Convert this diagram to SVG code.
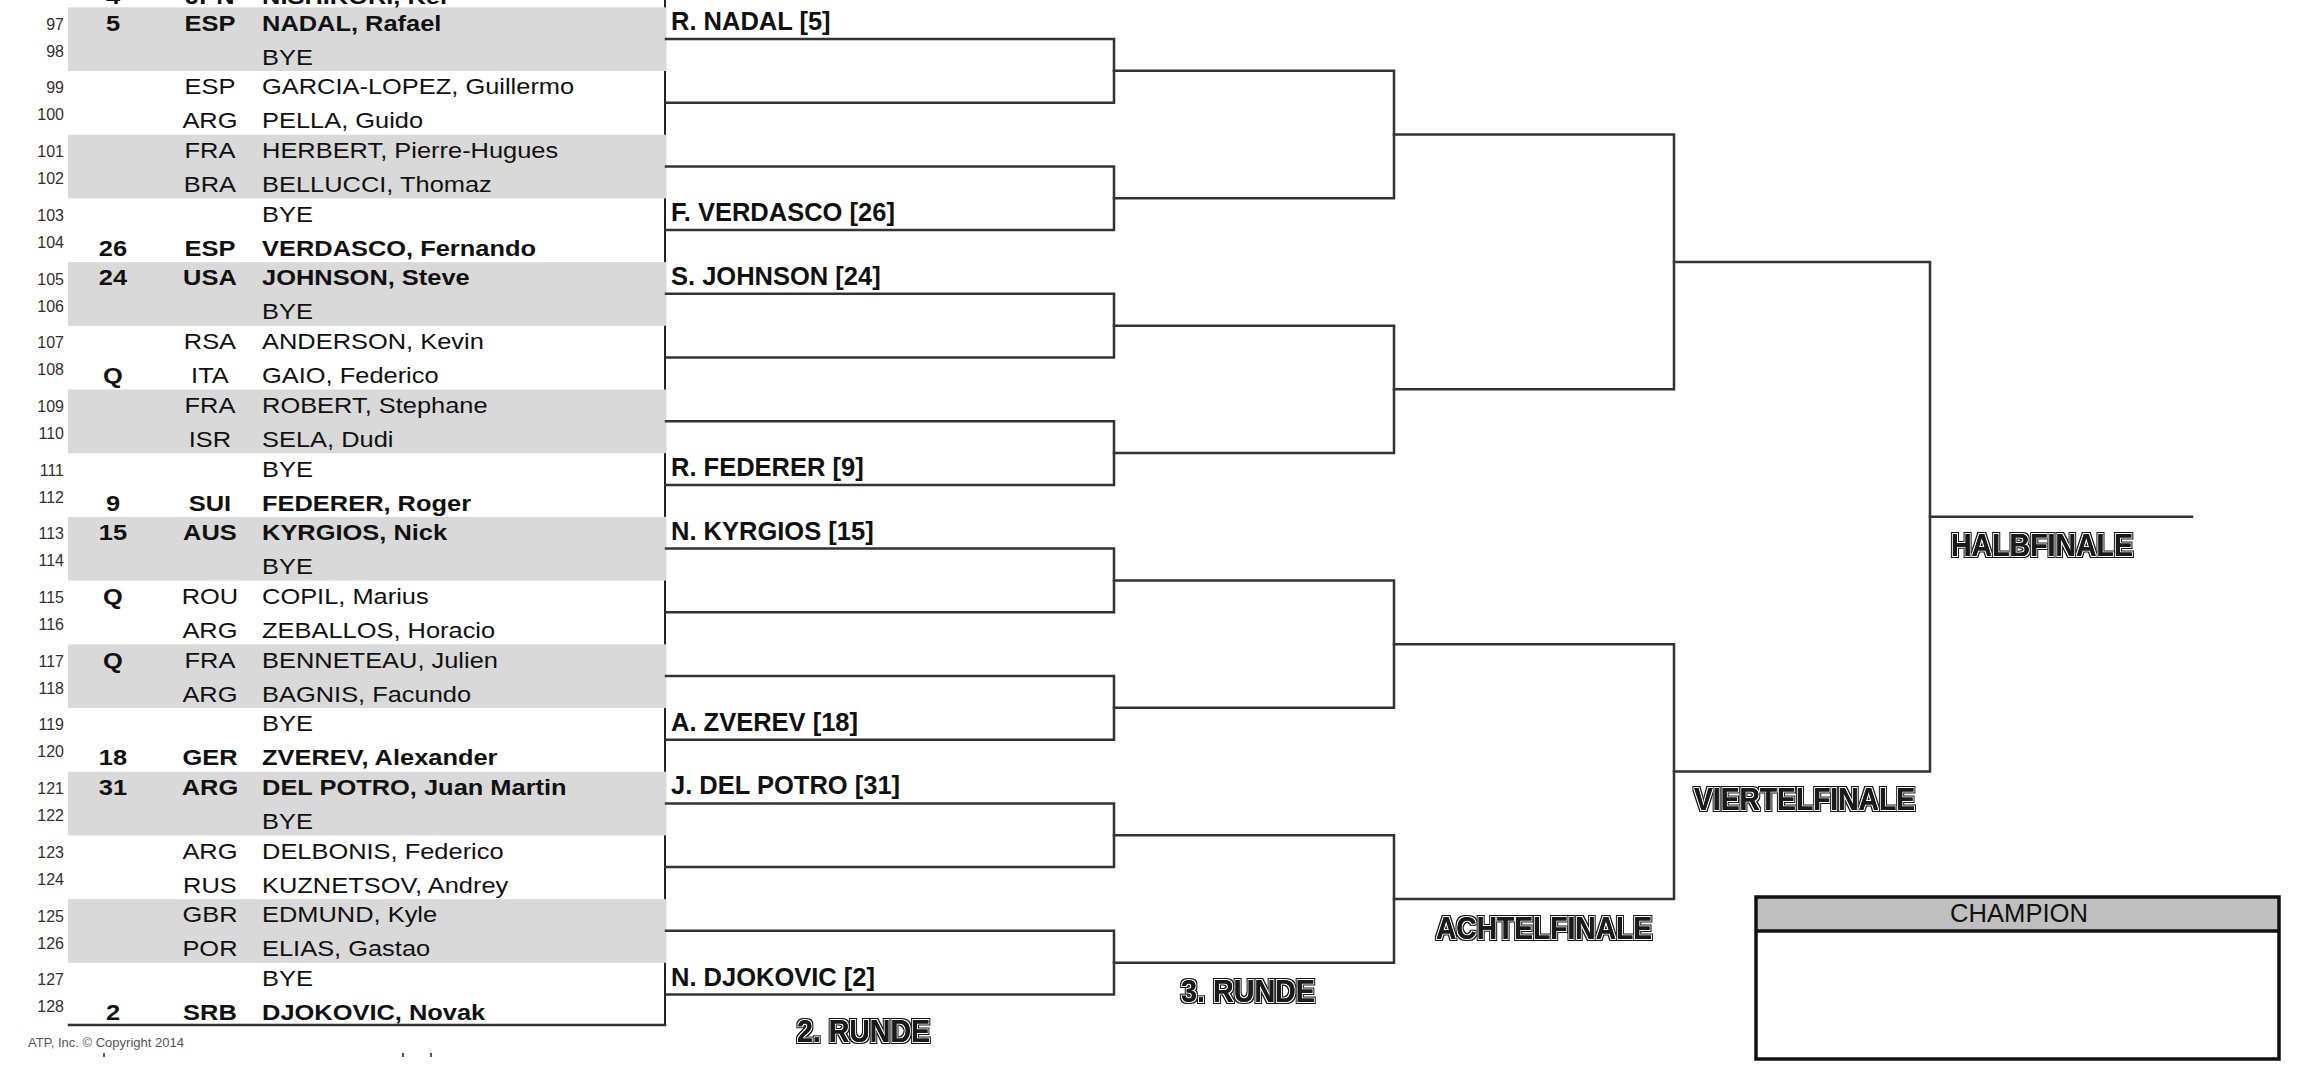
<svg xmlns="http://www.w3.org/2000/svg" width="2319" height="1080" viewBox="0 0 2319 1080">
<style>
  text { font-family: "Liberation Sans", Arial, Helvetica, sans-serif; fill: #111; }
  .nm { font-size: 22.5px; }
  .b { font-weight: bold; }
  .mid { text-anchor: middle; }
  .num { font-size: 16px; text-anchor: end; fill: #3a2c2c; }
  .r2 { font-size: 25.5px; font-weight: bold; }
  .rnd { font-size: 32px; font-weight: bold; fill: #1a1a1a; filter: url(#inline); }
  .band { fill: #d9d9d9; }
  .ln { stroke: #333; stroke-width: 2.5; fill: none; stroke-linecap: square; }
  .vl { stroke: #222; stroke-width: 2; fill: none; }
  .copy { font-size: 12.5px; fill: #555; }
</style>
<defs>
  <filter id="inline" x="-5%" y="-25%" width="110%" height="150%" color-interpolation-filters="sRGB">
    <feMorphology in="SourceAlpha" operator="dilate" radius="2" result="outer"/>
    <feMorphology in="SourceAlpha" operator="dilate" radius="1" result="d1"/>
    <feComposite in="d1" in2="SourceAlpha" operator="out" result="ring"/>
    <feFlood flood-color="#ffffff" result="white"/>
    <feComposite in="white" in2="ring" operator="in" result="whiteRing"/>
    <feFlood flood-color="#151515" result="black"/>
    <feComposite in="black" in2="outer" operator="in" result="blackOuter"/>
    <feMerge><feMergeNode in="blackOuter"/><feMergeNode in="whiteRing"/><feMergeNode in="SourceGraphic"/></feMerge>
  </filter>
</defs>
<rect x="0" y="0" width="2319" height="1080" fill="#ffffff"/>

<!-- table frame: right border and bottom -->
<g id="table-frame">
  <line class="vl" x1="665" y1="0" x2="665" y2="1026"/>
  <line class="ln" x1="69" y1="1025" x2="665" y2="1025"/>
</g>

<!-- shaded bands -->
<g id="bands">
  <rect class="band" x="68" y="7.3" width="598.5" height="63.7"/>
  <rect class="band" x="68" y="134.7" width="598.5" height="63.7"/>
  <rect class="band" x="68" y="262.1" width="598.5" height="63.7"/>
  <rect class="band" x="68" y="389.5" width="598.5" height="63.7"/>
  <rect class="band" x="68" y="516.9" width="598.5" height="63.7"/>
  <rect class="band" x="68" y="644.3" width="598.5" height="63.7"/>
  <rect class="band" x="68" y="771.7" width="598.5" height="63.7"/>
  <rect class="band" x="68" y="899.1" width="598.5" height="63.7"/>
</g>

<!-- row numbers -->
<g id="row-numbers">
  <text class="num" x="64" y="29.7">97</text>
  <text class="num" x="64" y="56.7">98</text>
  <text class="num" x="64" y="93.4">99</text>
  <text class="num" x="64" y="120.4">100</text>
  <text class="num" x="64" y="157.1">101</text>
  <text class="num" x="64" y="184.1">102</text>
  <text class="num" x="64" y="220.8">103</text>
  <text class="num" x="64" y="247.8">104</text>
  <text class="num" x="64" y="284.5">105</text>
  <text class="num" x="64" y="311.5">106</text>
  <text class="num" x="64" y="348.2">107</text>
  <text class="num" x="64" y="375.2">108</text>
  <text class="num" x="64" y="411.9">109</text>
  <text class="num" x="64" y="438.9">110</text>
  <text class="num" x="64" y="475.6">111</text>
  <text class="num" x="64" y="502.6">112</text>
  <text class="num" x="64" y="539.3">113</text>
  <text class="num" x="64" y="566.3">114</text>
  <text class="num" x="64" y="603.0">115</text>
  <text class="num" x="64" y="630.0">116</text>
  <text class="num" x="64" y="666.7">117</text>
  <text class="num" x="64" y="693.7">118</text>
  <text class="num" x="64" y="730.4">119</text>
  <text class="num" x="64" y="757.4">120</text>
  <text class="num" x="64" y="794.1">121</text>
  <text class="num" x="64" y="821.1">122</text>
  <text class="num" x="64" y="857.8">123</text>
  <text class="num" x="64" y="884.8">124</text>
  <text class="num" x="64" y="921.5">125</text>
  <text class="num" x="64" y="948.5">126</text>
  <text class="num" x="64" y="985.2">127</text>
  <text class="num" x="64" y="1012.2">128</text>
</g>

<!-- players (x scaled by 1.13) -->
<g id="players" transform="scale(1.13,1)">
  <g id="p96" class="nm b"><text class="mid" x="100" y="3.5">4</text><text class="mid" x="185.8" y="3.5">JPN</text><text x="231.9" y="3.5">NISHIKORI, Kei</text></g>
  <g id="p97" class="nm b"><text class="mid" x="100" y="30.7">5</text><text class="mid" x="185.8" y="30.7">ESP</text><text x="231.9" y="30.7">NADAL, Rafael</text></g>
  <g id="p98" class="nm"><text x="231.9" y="64.7">BYE</text></g>
  <g id="p99" class="nm"><text class="mid" x="185.8" y="94.4">ESP</text><text x="231.9" y="94.4">GARCIA-LOPEZ, Guillermo</text></g>
  <g id="p100" class="nm"><text class="mid" x="185.8" y="128.4">ARG</text><text x="231.9" y="128.4">PELLA, Guido</text></g>
  <g id="p101" class="nm"><text class="mid" x="185.8" y="158.1">FRA</text><text x="231.9" y="158.1">HERBERT, Pierre-Hugues</text></g>
  <g id="p102" class="nm"><text class="mid" x="185.8" y="192.1">BRA</text><text x="231.9" y="192.1">BELLUCCI, Thomaz</text></g>
  <g id="p103" class="nm"><text x="231.9" y="221.8">BYE</text></g>
  <g id="p104" class="nm b"><text class="mid" x="100" y="255.8">26</text><text class="mid" x="185.8" y="255.8">ESP</text><text x="231.9" y="255.8">VERDASCO, Fernando</text></g>
  <g id="p105" class="nm b"><text class="mid" x="100" y="285.5">24</text><text class="mid" x="185.8" y="285.5">USA</text><text x="231.9" y="285.5">JOHNSON, Steve</text></g>
  <g id="p106" class="nm"><text x="231.9" y="319.5">BYE</text></g>
  <g id="p107" class="nm"><text class="mid" x="185.8" y="349.2">RSA</text><text x="231.9" y="349.2">ANDERSON, Kevin</text></g>
  <g id="p108" class="nm"><text class="mid b" x="100" y="383.2">Q</text><text class="mid" x="185.8" y="383.2">ITA</text><text x="231.9" y="383.2">GAIO, Federico</text></g>
  <g id="p109" class="nm"><text class="mid" x="185.8" y="412.9">FRA</text><text x="231.9" y="412.9">ROBERT, Stephane</text></g>
  <g id="p110" class="nm"><text class="mid" x="185.8" y="446.9">ISR</text><text x="231.9" y="446.9">SELA, Dudi</text></g>
  <g id="p111" class="nm"><text x="231.9" y="476.6">BYE</text></g>
  <g id="p112" class="nm b"><text class="mid" x="100" y="510.6">9</text><text class="mid" x="185.8" y="510.6">SUI</text><text x="231.9" y="510.6">FEDERER, Roger</text></g>
  <g id="p113" class="nm b"><text class="mid" x="100" y="540.3">15</text><text class="mid" x="185.8" y="540.3">AUS</text><text x="231.9" y="540.3">KYRGIOS, Nick</text></g>
  <g id="p114" class="nm"><text x="231.9" y="574.3">BYE</text></g>
  <g id="p115" class="nm"><text class="mid b" x="100" y="604.0">Q</text><text class="mid" x="185.8" y="604.0">ROU</text><text x="231.9" y="604.0">COPIL, Marius</text></g>
  <g id="p116" class="nm"><text class="mid" x="185.8" y="638.0">ARG</text><text x="231.9" y="638.0">ZEBALLOS, Horacio</text></g>
  <g id="p117" class="nm"><text class="mid b" x="100" y="667.7">Q</text><text class="mid" x="185.8" y="667.7">FRA</text><text x="231.9" y="667.7">BENNETEAU, Julien</text></g>
  <g id="p118" class="nm"><text class="mid" x="185.8" y="701.7">ARG</text><text x="231.9" y="701.7">BAGNIS, Facundo</text></g>
  <g id="p119" class="nm"><text x="231.9" y="731.4">BYE</text></g>
  <g id="p120" class="nm b"><text class="mid" x="100" y="765.4">18</text><text class="mid" x="185.8" y="765.4">GER</text><text x="231.9" y="765.4">ZVEREV, Alexander</text></g>
  <g id="p121" class="nm b"><text class="mid" x="100" y="795.1">31</text><text class="mid" x="185.8" y="795.1">ARG</text><text x="231.9" y="795.1">DEL POTRO, Juan Martin</text></g>
  <g id="p122" class="nm"><text x="231.9" y="829.1">BYE</text></g>
  <g id="p123" class="nm"><text class="mid" x="185.8" y="858.8">ARG</text><text x="231.9" y="858.8">DELBONIS, Federico</text></g>
  <g id="p124" class="nm"><text class="mid" x="185.8" y="892.8">RUS</text><text x="231.9" y="892.8">KUZNETSOV, Andrey</text></g>
  <g id="p125" class="nm"><text class="mid" x="185.8" y="922.5">GBR</text><text x="231.9" y="922.5">EDMUND, Kyle</text></g>
  <g id="p126" class="nm"><text class="mid" x="185.8" y="956.5">POR</text><text x="231.9" y="956.5">ELIAS, Gastao</text></g>
  <g id="p127" class="nm"><text x="231.9" y="986.2">BYE</text></g>
  <g id="p128" class="nm b"><text class="mid" x="100" y="1020.2">2</text><text class="mid" x="185.8" y="1020.2">SRB</text><text x="231.9" y="1020.2">DJOKOVIC, Novak</text></g>
</g>

<!-- connectors: bracket lines -->
<g id="connectors">
  <path class="ln" d="M666 39H1114V102.7H666 M666 166.4H1114V230.1H666 M666 293.8H1114V357.5H666 M666 421.2H1114V484.9H666 M666 548.6H1114V612.3H666 M666 676H1114V739.7H666 M666 803.4H1114V867.1H666 M666 930.8H1114V994.5H666"/>
  <path class="ln" d="M1114 70.85H1394V198.25H1114 M1114 325.65H1394V453.05H1114 M1114 580.45H1394V707.85H1114 M1114 835.25H1394V962.65H1114"/>
  <path class="ln" d="M1394 134.55H1674V389.35H1394 M1394 644.15H1674V898.95H1394"/>
  <path class="ln" d="M1674 261.95H1930V771.55H1674"/>
  <line class="ln" x1="1930" y1="516.75" x2="2192" y2="516.75"/>
</g>

<!-- second round entries -->
<g id="r2-labels">
  <g id="w1"><text class="r2" x="671" y="30">R. NADAL [5]</text></g>
  <g id="w4"><text class="r2" x="671" y="221.1">F. VERDASCO [26]</text></g>
  <g id="w5"><text class="r2" x="671" y="284.8">S. JOHNSON [24]</text></g>
  <g id="w8"><text class="r2" x="671" y="475.9">R. FEDERER [9]</text></g>
  <g id="w9"><text class="r2" x="671" y="539.6">N. KYRGIOS [15]</text></g>
  <g id="w12"><text class="r2" x="671" y="730.7">A. ZVEREV [18]</text></g>
  <g id="w13"><text class="r2" x="671" y="794.4">J. DEL POTRO [31]</text></g>
  <g id="w16"><text class="r2" x="671" y="985.5">N. DJOKOVIC [2]</text></g>
</g>

<!-- round titles -->
<g id="round-titles">
  <g id="t-r2"><text class="rnd" x="797" y="1042" textLength="133" lengthAdjust="spacingAndGlyphs">2. RUNDE</text></g>
  <g id="t-r3"><text class="rnd" x="1181" y="1002" textLength="134" lengthAdjust="spacingAndGlyphs">3. RUNDE</text></g>
  <g id="t-r4"><text class="rnd" x="1436" y="939" textLength="216" lengthAdjust="spacingAndGlyphs">ACHTELFINALE</text></g>
  <g id="t-qf"><text class="rnd" x="1694" y="810" textLength="221" lengthAdjust="spacingAndGlyphs">VIERTELFINALE</text></g>
  <g id="t-sf"><text class="rnd" x="1951" y="556" textLength="182" lengthAdjust="spacingAndGlyphs">HALBFINALE</text></g>
</g>

<!-- champion box -->
<g id="champion">
  <rect x="1756" y="897" width="523" height="34" fill="#bfbfbf"/>
  <rect x="1756" y="897" width="523" height="162" fill="none" stroke="#111" stroke-width="3.5"/>
  <line x1="1756" y1="931" x2="2279" y2="931" stroke="#111" stroke-width="3.5"/>
  <text x="2019" y="922" font-size="26" text-anchor="middle" textLength="138" lengthAdjust="spacingAndGlyphs">CHAMPION</text>
</g>

<!-- footer -->
<g id="footer">
  <text class="copy" x="28" y="1047" textLength="156" lengthAdjust="spacingAndGlyphs">ATP, Inc. © Copyright 2014</text>
  <rect x="103" y="1053" width="2" height="4" fill="#555"/>
  <rect x="402" y="1053" width="2" height="4" fill="#555"/>
  <rect x="430" y="1053" width="2" height="4" fill="#555"/>
</g>
</svg>
